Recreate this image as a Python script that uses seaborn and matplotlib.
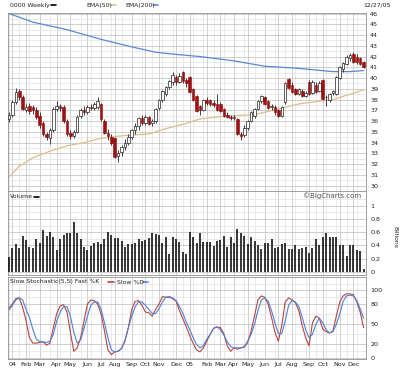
import numpy as np
import pandas as pd
import matplotlib
matplotlib.use("Agg")
import matplotlib.pyplot as plt
import seaborn as sns

sns.set_style("white")
plt.rcParams['font.family'] = ['DejaVu Sans']

# ---------------- data (weekly, 2004-2005) ----------------
opens = [36.2, 36.6, 37.8, 38.8, 38.2, 37.0, 37.4, 37.3, 37.0, 36.5,
         35.8, 34.8, 34.4, 35.2, 37.1, 37.4, 37.3, 36.0, 34.9, 34.6,
         35.0, 36.5, 37.0, 36.8, 37.3, 37.2, 37.3, 37.6, 36.0, 34.9,
         34.5, 34.4, 32.8, 33.1, 33.6, 34.0, 34.5, 35.2, 35.5, 36.3,
         35.8, 36.4, 35.8, 36.0, 37.2, 38.0, 38.5, 39.2, 39.6, 40.1,
         39.6, 40.6, 39.8, 40.1, 39.0, 38.3, 37.4, 37.0, 38.0, 38.0,
         37.7, 37.6, 37.6, 37.1, 36.6, 36.4, 36.3, 36.2, 34.8, 34.7,
         35.4, 36.0, 36.5, 37.1, 37.9, 38.2, 37.9, 37.3, 37.3, 37.0,
         36.5, 37.8, 39.9, 39.4, 39.0, 38.5, 38.8, 38.3, 39.6, 38.6,
         39.4, 38.8, 39.8, 38.2, 38.0, 38.6, 38.5, 40.0, 40.8, 41.3,
         41.9, 42.2, 42.0, 41.9, 41.5]
highs = [36.8, 38.0, 39.1, 39.0, 38.4, 37.6, 37.7, 37.5, 37.3, 36.8,
         36.0, 35.0, 35.4, 37.3, 37.9, 37.6, 37.5, 36.2, 35.2, 35.2,
         36.6, 37.2, 37.4, 37.5, 37.6, 37.8, 38.2, 37.7, 36.2, 35.3,
         34.8, 34.5, 33.3, 33.8, 34.3, 34.8, 35.3, 35.8, 36.4, 36.6,
         36.6, 36.5, 36.2, 37.2, 38.1, 38.9, 39.3, 39.8, 40.6, 40.3,
         40.5, 40.7, 40.0, 40.2, 39.1, 38.4, 37.5, 38.1, 38.2, 38.1,
         38.0, 38.5, 37.8, 37.2, 36.8, 36.6, 36.6, 36.3, 35.0, 35.6,
         36.1, 36.9, 37.2, 38.0, 38.4, 38.3, 38.0, 37.6, 37.5, 37.1,
         37.4, 39.6, 40.0, 39.6, 39.1, 39.1, 39.0, 38.8, 39.8, 39.8,
         39.6, 39.7, 39.9, 38.4, 38.6, 38.9, 40.2, 41.1, 41.5, 42.1,
         42.3, 42.4, 42.2, 42.0, 41.6]
lows = [35.9, 36.4, 37.6, 38.0, 37.0, 36.8, 36.7, 36.7, 36.2, 35.4,
        34.6, 34.2, 33.9, 35.0, 36.9, 36.9, 35.8, 34.6, 34.3, 34.4,
        34.9, 36.3, 36.6, 36.7, 37.0, 37.0, 37.1, 36.0, 34.8, 34.2,
        33.8, 32.6, 32.2, 32.8, 33.3, 33.8, 34.3, 34.8, 35.2, 35.6,
        35.6, 35.6, 35.5, 35.8, 37.0, 37.8, 38.3, 39.0, 39.4, 39.4,
        39.5, 39.5, 39.2, 38.6, 37.9, 36.8, 36.6, 36.9, 37.5, 37.4,
        37.3, 36.9, 36.8, 36.4, 36.3, 36.1, 36.1, 34.7, 34.2, 34.5,
        35.2, 35.9, 36.3, 37.0, 37.7, 37.5, 37.1, 37.0, 36.6, 36.4,
        36.4, 37.6, 39.0, 38.6, 38.4, 38.4, 38.2, 38.2, 38.4, 38.5,
        38.6, 38.7, 38.0, 37.4, 37.8, 38.4, 38.4, 39.9, 40.6, 41.2,
        41.6, 41.4, 41.3, 41.2, 40.9]
closes = [36.6, 37.8, 38.7, 38.2, 37.1, 37.3, 36.9, 37.0, 36.4, 35.6,
          34.8, 34.5, 35.2, 37.1, 37.4, 37.2, 36.0, 34.8, 34.6, 35.0,
          36.4, 37.0, 36.8, 37.3, 37.2, 37.6, 37.9, 36.2, 34.9, 34.6,
          34.0, 32.7, 33.0, 33.6, 34.0, 34.5, 35.2, 35.5, 36.3, 35.8,
          36.4, 35.7, 36.0, 37.1, 38.0, 38.8, 39.2, 39.7, 40.3, 39.6,
          40.2, 39.7, 39.5, 38.7, 38.0, 36.9, 37.0, 38.0, 37.7, 37.6,
          37.5, 37.0, 36.9, 36.5, 36.4, 36.3, 36.4, 34.8, 34.6, 35.4,
          36.0, 36.8, 37.1, 37.9, 38.3, 37.6, 37.2, 37.4, 36.8, 36.5,
          37.3, 39.5, 39.1, 38.7, 38.5, 39.0, 38.3, 38.6, 38.5, 39.6,
          38.7, 39.5, 38.1, 38.2, 38.5, 38.8, 40.1, 41.0, 41.4, 42.0,
          42.1, 41.5, 41.5, 41.3, 41.0]
volume = [0.22, 0.36, 0.42, 0.36, 0.54, 0.48, 0.37, 0.36, 0.49, 0.43,
          0.64, 0.54, 0.60, 0.52, 0.33, 0.50, 0.55, 0.58, 0.58, 0.75,
          0.59, 0.50, 0.38, 0.33, 0.39, 0.44, 0.45, 0.42, 0.49, 0.60,
          0.55, 0.51, 0.51, 0.46, 0.37, 0.42, 0.42, 0.43, 0.50, 0.46,
          0.48, 0.51, 0.58, 0.57, 0.55, 0.44, 0.52, 0.27, 0.52, 0.50,
          0.45, 0.30, 0.27, 0.60, 0.52, 0.43, 0.58, 0.45, 0.45, 0.45,
          0.39, 0.46, 0.48, 0.54, 0.37, 0.52, 0.43, 0.65, 0.58, 0.54,
          0.42, 0.52, 0.46, 0.40, 0.35, 0.43, 0.43, 0.50, 0.36, 0.37,
          0.42, 0.44, 0.35, 0.35, 0.41, 0.34, 0.36, 0.37, 0.28, 0.36,
          0.50, 0.40, 0.53, 0.59, 0.53, 0.52, 0.52, 0.41, 0.41, 0.24,
          0.40, 0.40, 0.33, 0.31, 0.05]
fast_k = [74, 80, 88, 89, 75, 55, 30, 22, 22, 23,
          24, 19, 22, 45, 66, 77, 79, 68, 38, 10,
          15, 30, 55, 80, 86, 85, 80, 65, 40, 12,
          5, 9, 10, 14, 25, 45, 72, 84, 85, 78,
          68, 67, 62, 72, 80, 91, 90, 90, 88, 84,
          70, 58, 46, 33, 22, 12, 9, 15, 25, 35,
          44, 46, 45, 36, 18, 10, 15, 13, 15, 16,
          23, 40, 62, 86, 92, 90, 80, 60, 38, 25,
          48, 83, 89, 86, 82, 70, 48, 30, 18, 52,
          62, 59, 43, 39, 37, 40, 62, 83, 92, 95,
          95, 94, 83, 68, 45]
slow_d = [71, 78, 86, 89, 86, 72, 60, 42, 28, 24,
          24, 23, 25, 35, 55, 68, 76, 76, 62, 38,
          22, 27, 44, 62, 78, 83, 83, 72, 52, 30,
          12, 9, 10, 14, 26, 45, 62, 76, 83, 83,
          78, 72, 66, 66, 73, 83, 90, 91, 89, 85,
          76, 66, 53, 42, 30, 20, 15, 18, 28, 35,
          44, 46, 42, 34, 24, 17, 15, 15, 15, 17,
          25, 35, 50, 70, 86, 89, 84, 70, 52, 36,
          36, 55, 78, 85, 83, 76, 60, 42, 30, 35,
          50, 59, 52, 42, 37, 39, 50, 65, 84, 92,
          93, 92, 85, 73, 59]
ema50_weeks = [0, 3, 7, 12, 17, 22, 27, 32, 36, 41, 46, 51, 56, 62, 66, 72, 76, 80, 85, 90, 95, 100, 104]
ema50_vals = [30.8, 31.8, 32.6, 33.2, 33.7, 34.0, 34.4, 34.6, 34.7, 34.8, 35.3, 35.7, 36.2, 36.4, 36.5, 36.6, 36.9, 37.2, 37.6, 37.8, 38.0, 38.5, 38.9]
ema200_weeks = [0, 7, 17, 27, 36, 43, 49, 56, 66, 75, 85, 95, 100, 104]
ema200_vals = [46.0, 45.2, 44.5, 43.6, 42.9, 42.4, 42.2, 42.0, 41.6, 41.1, 40.9, 40.6, 40.6, 40.7]
month_labels = ['04', 'Feb', 'Mar', 'Apr', 'May', 'Jun', 'Jul', 'Aug', 'Sep', 'Oct', 'Nov', 'Dec',
                '05', 'Feb', 'Mar', 'Apr', 'May', 'Jun', 'Jul', 'Aug', 'Sep', 'Oct', 'Nov', 'Dec']
price_ticks = list(range(30, 47))
vol_ticks = [0, 0.2, 0.4, 0.6, 0.8, 1]
vol_tick_labels = ['0', '0.2', '0.4', '0.6', '0.8', '1']
stoch_ticks = [0, 20, 50, 80, 100]

# ---------------- derived ----------------
n = len(closes)
idx = np.arange(n)
dates = pd.date_range('2003-12-29', periods=n, freq='7D')
df = pd.DataFrame({'d': dates, 'i': idx})
firsts = df.groupby([df.d.dt.year, df.d.dt.month])['i'].first()
firsts = firsts[[k for k in firsts.index if k[0] >= 2004]].values

W, H = 400, 369
fig = plt.figure(figsize=(W / 100, H / 100), dpi=100)
fig.patch.set_facecolor('white')

def axrect(x0, y0, x1, y1):
    return [x0 / W, 1 - y1 / H, (x1 - x0) / W, (y1 - y0) / H]

X0, X1 = 8, 366
ax_p = fig.add_axes(axrect(X0, 13, X1, 191))
ax_v = fig.add_axes(axrect(X0, 191, X1, 275))
ax_s = fig.add_axes(axrect(X0, 277, X1, 359))

xlim = (-0.3, 104.7)
grid_major = '#bcbcbc'
grid_minor = '#e2e2e2'
tick_kw = dict(labelsize=4.6, colors='#222222', length=0, pad=3)

for ax in (ax_p, ax_v, ax_s):
    ax.set_xlim(*xlim)
    ax.set_facecolor('white')
    ax.set_xticks(firsts)
    ax.set_xticks(np.arange(0, n, 3), minor=True)
    ax.grid(which='major', axis='x', color=grid_major, lw=0.5)
    ax.grid(which='minor', axis='x', color=grid_minor, lw=0.5)
    ax.yaxis.tick_right()
    ax.tick_params(axis='both', which='both', **tick_kw)
    for s in ax.spines.values():
        s.set_color('#909090')
        s.set_linewidth(0.6)
    ax.set_axisbelow(True)

# ---- price panel ----
ax_p.set_ylim(29.7, 46.05)
ax_p.set_yticks(price_ticks)
ax_p.set_yticks(np.arange(29.5, 46.5, 1.0), minor=True)
ax_p.grid(which='major', axis='y', color=grid_major, lw=0.5)
ax_p.grid(which='minor', axis='y', color=grid_minor, lw=0.5)
ax_p.set_xticklabels([])

o = np.array(opens); c = np.array(closes)
up = c >= o
ax_p.vlines(idx, lows, highs, color='#222222', lw=0.6, zorder=3)
body_bottom = np.minimum(o, c)
body_h = np.maximum(np.abs(c - o), 0.06)
ax_p.bar(idx[up], body_h[up], bottom=body_bottom[up], width=0.75,
         color='white', edgecolor='#222222', linewidth=0.5, zorder=4)
ax_p.bar(idx[~up], body_h[~up], bottom=body_bottom[~up], width=0.75,
         color='#a01010', edgecolor='#8a0a0a', linewidth=0.4, zorder=4)

sns.lineplot(x=ema200_weeks, y=ema200_vals, ax=ax_p, color='#5a87d6', lw=0.9, zorder=2)
sns.lineplot(x=ema50_weeks, y=ema50_vals, ax=ax_p, color='#d9bf8c', lw=0.9, zorder=2)
ax_p.set_xlabel(''); ax_p.set_ylabel('')

# ---- volume panel ----
ax_v.set_ylim(-0.045, 1.22)
ax_v.set_yticks(vol_ticks)
ax_v.set_yticklabels(vol_tick_labels)
ax_v.set_yticks(np.arange(0.1, 1.2, 0.2), minor=True)
ax_v.grid(which='major', axis='y', color=grid_major, lw=0.5)
ax_v.grid(which='minor', axis='y', color=grid_minor, lw=0.5)
ax_v.vlines(idx, 0, volume, color='black', lw=1.1, zorder=3)
ax_v.set_xticklabels([])

# ---- stochastic panel ----
ax_s.set_ylim(-1.5, 120)
ax_s.set_yticks(stoch_ticks)
ax_s.set_yticks([10, 35, 65, 90, 110], minor=True)
ax_s.grid(which='major', axis='y', color=grid_major, lw=0.5)
ax_s.grid(which='minor', axis='y', color=grid_minor, lw=0.5)
sns.lineplot(x=idx, y=fast_k, ax=ax_s, color='#b5473f', lw=0.8, zorder=3)
sns.lineplot(x=idx, y=slow_d, ax=ax_s, color='#4f7fd9', lw=0.8, zorder=3)
ax_s.set_xlabel(''); ax_s.set_ylabel('')
ax_s.set_xticklabels(month_labels)
ax_s.tick_params(axis='x', pad=2)

# ---- texts ----
FS = 4.4
def ftext(x, y, s, color='#222222', fs=FS, **kw):
    fig.text(x / W, 1 - y / H, s, fontsize=fs, color=color, va='center', **kw)

def dash(x0, x1, y, color):
    fig.add_artist(plt.Line2D([x0 / W, x1 / W], [1 - y / H] * 2, color=color, lw=1.2))

ftext(10, 5, '0000 Weekly')
dash(51, 56, 5, 'black')
ftext(86, 5, 'EMA(50)')
dash(110, 116, 5, '#d9bf8c')
ftext(125, 5, 'EMA(200)')
dash(153, 158, 5, '#5a87d6')
ftext(363, 5, '12/27/05')
ftext(303, 196, '\u00a9BigCharts.com', color='#555555', fs=5)
ftext(10, 197, 'Volume')
dash(34, 39, 197, 'black')
ftext(10, 282, 'Slow Stochastic(5,5) Fast %K')
dash(108, 114, 282, '#b5473f')
ftext(117, 282, 'Slow %D')
dash(143, 148, 282, '#4f7fd9')
fig.text(395 / W, 1 - 237 / H, 'Billions', fontsize=FS, color='#222222', rotation=270,
         ha='center', va='center')

fig.savefig('out.png', dpi=100)
